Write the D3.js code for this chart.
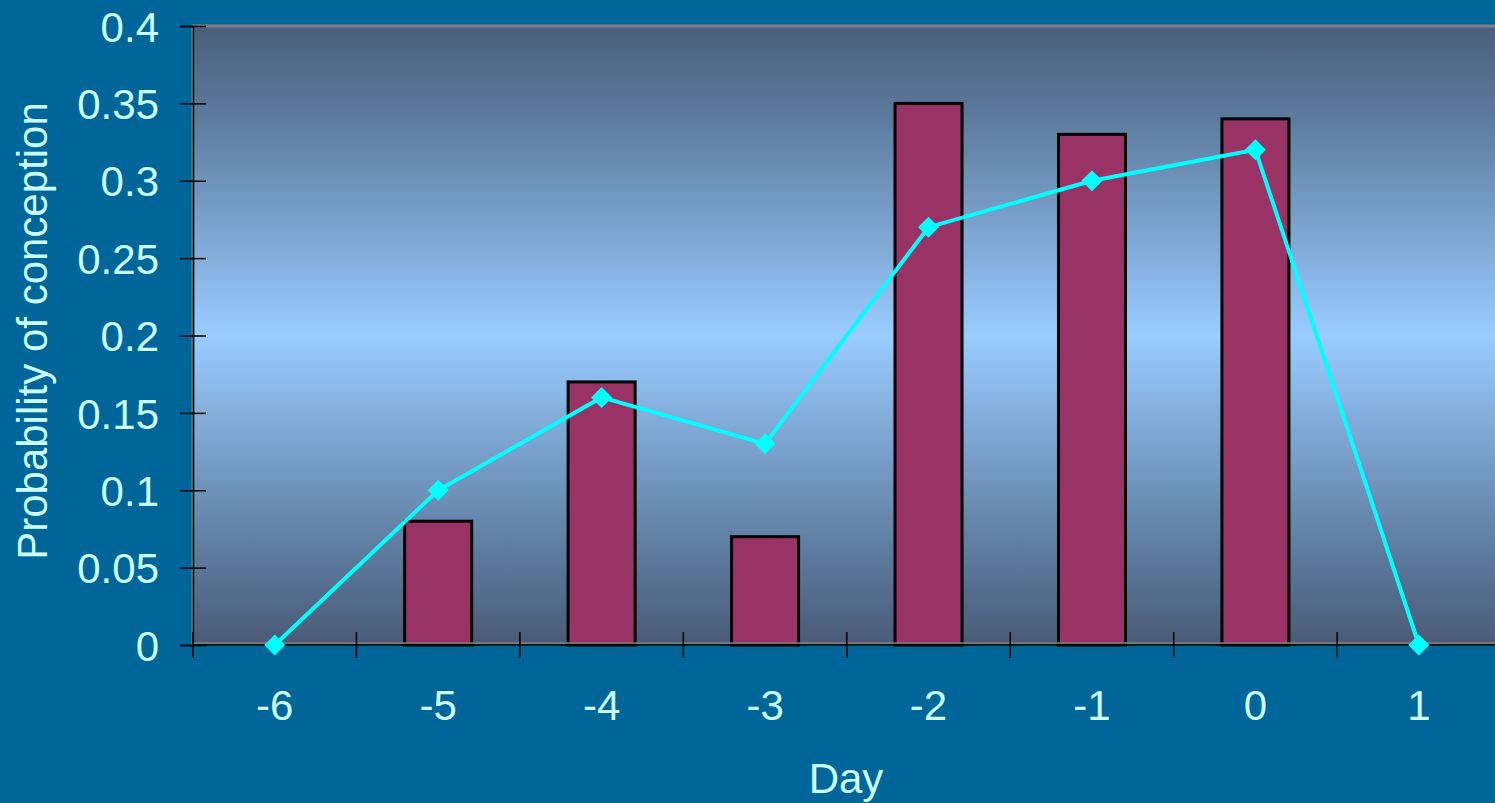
<!DOCTYPE html>
<html>
<head>
<meta charset="utf-8">
<script src="https://cdn.jsdelivr.net/npm/d3@7"></script>
<style>
  html, body { margin: 0; padding: 0; background: #006699; overflow: hidden; }
  svg { display: block; }
  text { font-family: "Liberation Sans", Arial, sans-serif; fill: #ccffff; }
</style>
</head>
<body>
<svg id="chart" width="1495" height="803"></svg>
<script>
// Day relative to ovulation
const days = ["-6", "-5", "-4", "-3", "-2", "-1", "0", "1"];
// Observed probability per day (bars)
const barValues = [0, 0.08, 0.17, 0.07, 0.35, 0.33, 0.34, 0];
// Model estimate per day (line with markers)
const lineValues = [0, 0.10, 0.16, 0.13, 0.27, 0.30, 0.32, 0];
// Y-axis ticks
const yTicks = [0, 0.05, 0.1, 0.15, 0.2, 0.25, 0.3, 0.35, 0.4];

const svg = d3.select("#chart");
const plot = { left: 193, top: 26, bottom: 645, right: 193 + 8 * 163.45 };

const x = d3.scaleBand().domain(days).range([plot.left, plot.right]).padding(0);
const y = d3.scaleLinear().domain([0, 0.4]).range([plot.bottom, plot.top]);

// Plot-area gradient: dark at the edges, light blue in the middle
const defs = svg.append("defs");
const grad = defs.append("linearGradient")
  .attr("id", "plotGrad").attr("x1", 0).attr("y1", 0).attr("x2", 0).attr("y2", 1);
grad.append("stop").attr("offset", "0%").attr("stop-color", "#4a5e7a");
grad.append("stop").attr("offset", "15%").attr("stop-color", "#5d7b9e");
grad.append("stop").attr("offset", "50%").attr("stop-color", "#99ccff");
grad.append("stop").attr("offset", "85%").attr("stop-color", "#5d7b9e");
grad.append("stop").attr("offset", "100%").attr("stop-color", "#4a5a76");

svg.append("rect")
  .attr("x", plot.left).attr("y", plot.top)
  .attr("width", plot.right - plot.left).attr("height", plot.bottom - plot.top)
  .attr("fill", "url(#plotGrad)");

// Grey frame on top and left of the plot area
svg.append("path")
  .attr("d", `M${plot.left},${plot.bottom} V${plot.top} H${plot.right}`)
  .attr("fill", "none").attr("stroke", "#808080").attr("stroke-width", 3);

// Bars
const barW = x.bandwidth() * 0.41;
svg.append("g").selectAll("rect")
  .data(days.map((d, i) => ({ d, v: barValues[i] })).filter(e => e.v > 0))
  .join("rect")
  .attr("x", e => x(e.d) + (x.bandwidth() - barW) / 2)
  .attr("y", e => y(e.v))
  .attr("width", barW)
  .attr("height", e => y(0) - y(e.v))
  .attr("fill", "#993366")
  .attr("stroke", "#000")
  .attr("stroke-width", 3);

// Y axis with crossing ticks
const yAxis = svg.append("g")
  .attr("transform", `translate(${plot.left},0)`)
  .call(d3.axisLeft(y).tickValues(yTicks).tickSize(13).tickPadding(0)
    .tickFormat(d => String(+d.toFixed(2))));
yAxis.select(".domain").attr("stroke", "#000").attr("stroke-width", 1.5);
yAxis.selectAll(".tick line").attr("x1", -13).attr("x2", 13).attr("stroke", "#000").attr("stroke-width", 1.5);
yAxis.selectAll(".tick text")
  .attr("x", -34).attr("dy", "0.36em")
  .style("font-size", "42px").attr("fill", "#ccffff");

// X axis with crossing ticks at band boundaries
const xAxis = svg.append("g")
  .attr("transform", `translate(0,${plot.bottom})`);
xAxis.append("line")
  .attr("x1", plot.left).attr("x2", plot.right)
  .attr("stroke", "#000").attr("stroke-width", 1.5);
xAxis.append("line")
  .attr("x1", plot.left).attr("x2", plot.right).attr("y1", -2).attr("y2", -2)
  .attr("stroke", "#808080").attr("stroke-width", 1.5);
xAxis.selectAll("line.tk")
  .data(days)
  .join("line").attr("class", "tk")
  .attr("x1", d => x(d)).attr("x2", d => x(d))
  .attr("y1", -13).attr("y2", 13)
  .attr("stroke", "#000").attr("stroke-width", 1.5);
xAxis.selectAll("text")
  .data(days)
  .join("text")
  .attr("x", d => x(d) + x.bandwidth() / 2)
  .attr("y", 75)
  .attr("text-anchor", "middle")
  .style("font-size", "42px")
  .text(d => d);

// Line series with diamond markers
const line = d3.line()
  .x((v, i) => x(days[i]) + x.bandwidth() / 2)
  .y(v => y(v));
svg.append("path")
  .datum(lineValues)
  .attr("d", line)
  .attr("fill", "none")
  .attr("stroke", "#00ffff")
  .attr("stroke-width", 4);
const diamond = d3.symbol().type(d3.symbolDiamond2).size(280);
svg.append("g").selectAll("path")
  .data(lineValues)
  .join("path")
  .attr("transform", (v, i) => `translate(${x(days[i]) + x.bandwidth() / 2},${y(v)})`)
  .attr("d", diamond)
  .attr("fill", "#00ffff");

// Axis titles
svg.append("text")
  .attr("x", 846).attr("y", 793)
  .attr("text-anchor", "middle")
  .style("font-size", "42px")
  .text("Day");
svg.append("text")
  .attr("transform", "translate(47,331) rotate(-90)")
  .attr("text-anchor", "middle")
  .style("font-size", "42px")
  .text("Probability of conception");
</script>
</body>
</html>
